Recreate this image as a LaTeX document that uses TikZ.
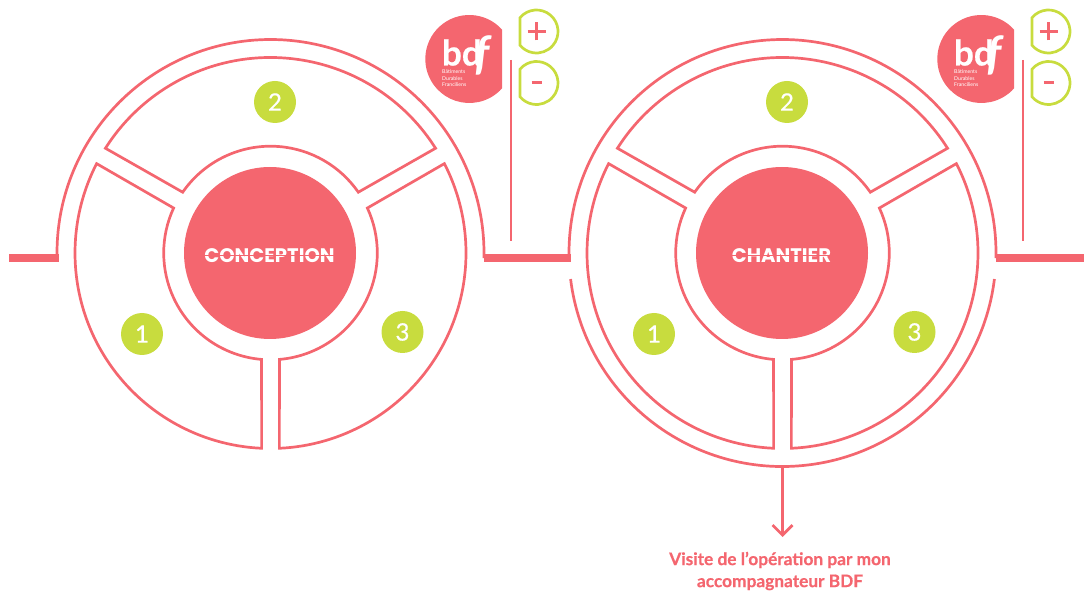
\documentclass[tikz,border=0pt]{standalone}
\usepackage{fontspec}
\setmainfont{Lato}
\newfontfamily\popfont{Poppins}
\newfontfamily\digitfont[FakeBold=0.5]{Lato}
\newfontfamily\heavyfont[BoldFont={Lato Bold},BoldFeatures={FakeBold=0.5}]{Lato}
\usetikzlibrary{arrows.meta}
\definecolor{bdfpink}{HTML}{F4666F}
\definecolor{bdfgreen}{HTML}{C8DC3E}
\tikzset{
  x=1pt,y=1pt,
  ringline/.style={draw=bdfpink,line width=2.7pt,line join=miter},
  bar/.style={fill=bdfpink,draw=none},
  greendisc/.style={circle,fill=bdfgreen,minimum size=42pt,inner sep=0pt,text=white,font=\digitfont\fontsize{24}{24}\selectfont},
  core/.style={circle,fill=bdfpink,minimum size=172pt,inner sep=0pt},
  corelabel/.style={text=white,font=\popfont\bfseries\fontsize{19.6}{20}\selectfont,inner sep=0pt},
  slit/.style={draw=bdfpink,line width=0.8pt},
  greenbtn/.style={draw=bdfgreen,line width=2.7pt},
  signline/.style={draw=bdfpink,line width=3pt},
  smalltext/.style={text=white,font=\fontsize{5.2}{5.2}\selectfont,anchor=west,inner sep=0pt},
  bdflogo/.style={text=white,inner sep=0pt,anchor=base west},
  visit/.style={text=bdfpink,font=\heavyfont\bfseries\fontsize{17.3}{22}\selectfont,align=center,inner sep=0pt}
}
\newcommand{\ringbody}{%
  \draw[ringline] (152.8:195.5) arc[start angle=152.8,end angle=267.4,radius=195.5] -- (265.2:106.8) arc[start angle=265.2,end angle=155.1,radius=106.8] -- cycle;
  \draw[ringline] (27.2:195.5) arc[start angle=27.2,end angle=-87.4,radius=195.5] -- (-85.2:106.8) arc[start angle=-85.2,end angle=24.9,radius=106.8] -- cycle;
  \draw[ringline] (32.4:195.5) arc[start angle=32.4,end angle=147.6,radius=195.5] -- (145.3:106.8) arc[start angle=145.3,end angle=34.7,radius=106.8] -- cycle;
  \draw[draw=bdfpink,line width=2.7pt] (181.4:213.5) arc[start angle=181.4,end angle=-1.4,radius=213.5];
}
\newcommand{\logoset}[1]{%
  \fill[bdfpink] (42:44) arc[start angle=42,end angle=318,radius=44] -- cycle;
  \node[bdflogo,font=\heavyfont\bfseries\fontsize{35}{35}\selectfont] (#1bd) at (-27.5,-6.5) {bd};
  \node[bdflogo,font=\bfseries\itshape\fontsize{46}{46}\selectfont] (#1f) at (5,-11) {f};
  \node[smalltext] (#1s1) at (-27.3,-13) {Bâtiments};
  \node[smalltext] (#1s2) at (-27.3,-19.7) {Durables};
  \node[smalltext] (#1s3) at (-27.3,-26) {Franciliens};
}
\newcommand{\btnshape}{%
  \draw[greenbtn] (140:21.5) arc[start angle=140,end angle=-140,radius=21.5] -- cycle;
}
\begin{document}
\begin{tikzpicture}
\useasboundingbox (0,0) rectangle (1084,592);
\fill[bar] (9,330) rectangle (58.5,338);
\fill[bar] (483.5,330) rectangle (570.5,338);
\fill[bar] (995.5,330) rectangle (1084,338);
\begin{scope}[shift={(270.5,339)}]
  \ringbody
  \node[core] (acore) at (-0.5,0) {};
  \node[corelabel] (alabel) at (-1,-2.5) {CONCEPTION};
  \draw[slit] (alabel.west) -- (alabel.east);
\end{scope}
\begin{scope}[shift={(782.5,339)}]
  \ringbody
  \draw[ringline] (187:213.5) arc[start angle=187,end angle=353,radius=213.5];
  \node[core] (bcore) at (-0.5,0) {};
  \node[corelabel] (blabel) at (-1,-2.5) {CHANTIER};
  \draw[slit] (blabel.west) -- (blabel.east);
\end{scope}
\node[greendisc] (a2) at (275,490) {2};
\node[greendisc] (a1) at (142,258) {1};
\node[greendisc] (a3) at (402.5,260) {3};
\node[greendisc] (b2) at (787,490) {2};
\node[greendisc] (b1) at (654,258) {1};
\node[greendisc] (b3) at (914.5,260) {3};
\coordinate (v1t) at (511,532); \coordinate (v1b) at (511,351);
\coordinate (v2t) at (1023,532); \coordinate (v2b) at (1023,351);
\draw[draw=bdfpink,line width=2.7pt] (v1t) -- (v1b);
\draw[draw=bdfpink,line width=2.7pt] (v2t) -- (v2b);
\begin{scope}[shift={(469.3,533)}] \logoset{a} \end{scope}
\begin{scope}[shift={(981.3,533)}] \logoset{b} \end{scope}
\foreach \dx in {0,512}{
  \begin{scope}[shift={(536.5+\dx,560.5)}]
    \btnshape
    \draw[signline] (-9,0) -- (9,0);
    \draw[signline] (0,-9) -- (0,9);
  \end{scope}
  \begin{scope}[shift={(536.5+\dx,509)}]
    \btnshape
    \draw[signline] (-5,0) -- (5,0);
  \end{scope}
}
\coordinate (arrowtop) at (782.5,125.5);
\coordinate (arrowtip) at (782.5,55);
\draw[draw=bdfpink,line width=2.7pt,-{Straight Barb[length=10pt,width=20pt,line width=2.7pt]}] (arrowtop) -- (arrowtip);
\node[visit] (visit) at (780,21) {Visite de l’opération par mon\\accompagnateur BDF};
\end{tikzpicture}
\end{document}
